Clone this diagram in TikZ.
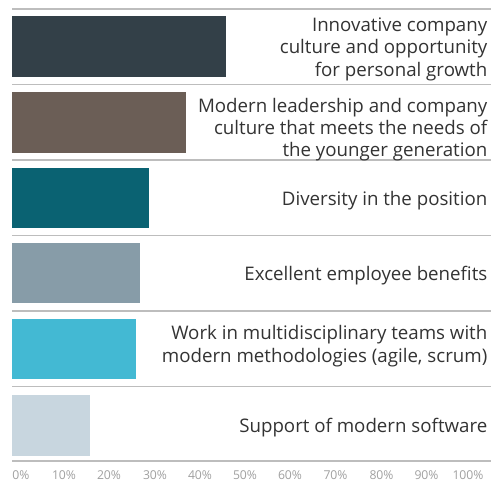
\documentclass[tikz,border=0pt]{standalone}
\usepackage{fontspec}
\setmainfont{Open Sans}
\definecolor{barA}{HTML}{334048}
\definecolor{barB}{HTML}{6B5E56}
\definecolor{barC}{HTML}{0A6272}
\definecolor{barD}{HTML}{879CA8}
\definecolor{barE}{HTML}{43B9D3}
\definecolor{barF}{HTML}{C8D6DF}
\definecolor{gridc}{HTML}{BDBDBD}
\definecolor{txt}{HTML}{333333}
\definecolor{ticktxt}{HTML}{A0A0A0}
\begin{document}
\begin{tikzpicture}[x=1pt,y=-1pt,
  gridline/.style={draw=gridc,line width=1.4pt},
  rowlabel/.style={anchor=base east,align=right,inner sep=0pt,text=txt,
     font=\fontsize{18.7}{22.3}\selectfont},
  ticklabel/.style={anchor=base,inner sep=0pt,text=ticktxt,
     font=\fontsize{12.2}{14}\selectfont}]
\useasboundingbox (0,0) rectangle (491,482);
% grid lines
\foreach \y in {9,84.5,160,235.5,311,386.5,461}
  \draw[gridline] (12,\y) -- (491,\y);
% bars
\fill[barA] (12,16) rectangle (226,77);
\fill[barB] (12,92) rectangle (186,153);
\fill[barC] (12,168) rectangle (149,228);
\fill[barD] (12,243) rectangle (140,303);
\fill[barE] (12,319) rectangle (136,379);
\fill[barF] (12,395) rectangle (90,456);
% labels (base anchor = baseline of the last line)
\node[rowlabel] (l1) at (487.5,76) {Innovative company\\culture and opportunity\\for personal growth};
\node[rowlabel] (l2) at (487.5,156.7) {Modern leadership and company\\culture that meets the needs of\\the younger generation};
\node[rowlabel] (l3) at (487.5,205) {Diversity in the position};
\node[rowlabel] (l4) at (487.5,280.7) {Excellent employee benefits};
\node[rowlabel] (l5) at (487.5,362) {Work in multidisciplinary teams with\\modern methodologies (agile, scrum)};
\node[rowlabel] (l6) at (487.5,432) {Support of modern software};
% axis labels
\foreach \x/\t [count=\i] in {21/0,64/10,109/20,155/30,200/40,245/50,290/60,335.5/70,381.5/80,426.5/90,468/100}
  \node[ticklabel] (t\i) at (\x,479.3) {\t\%};
\end{tikzpicture}
\end{document}
